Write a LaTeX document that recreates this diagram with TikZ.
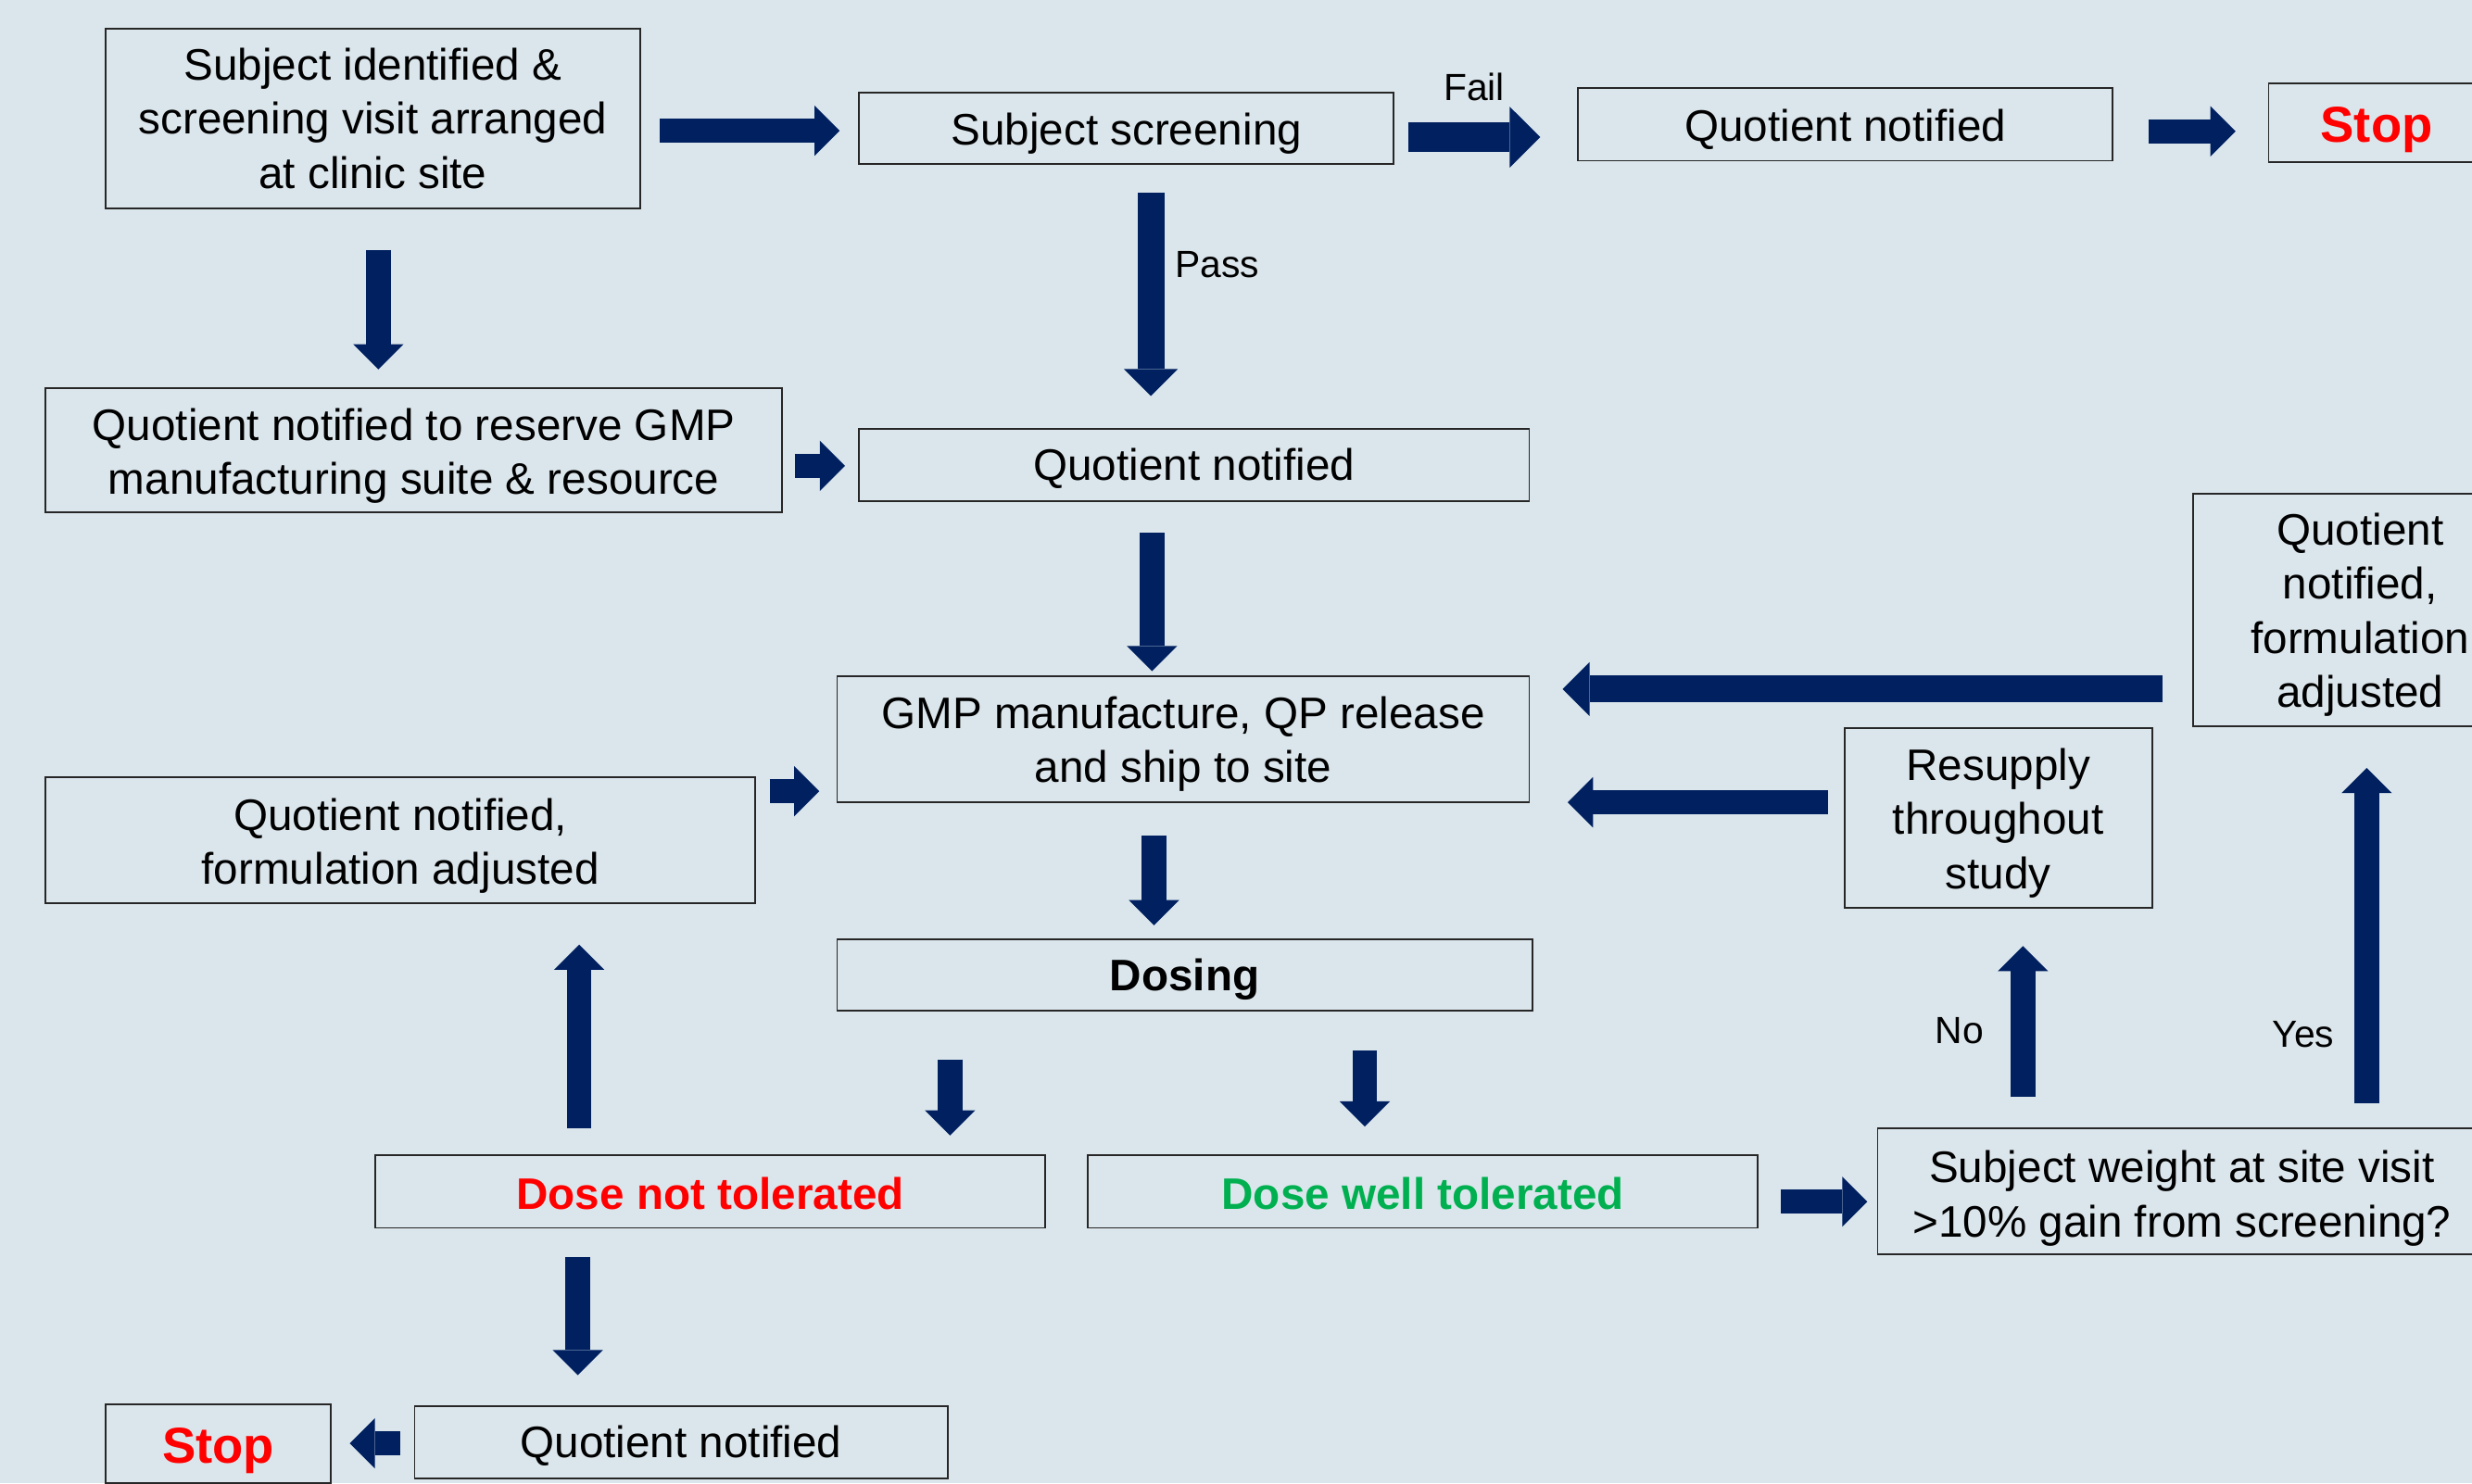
\documentclass[tikz,border=0pt]{standalone}
\usepackage{fontspec}
\setmainfont{Liberation Sans}
\usetikzlibrary{arrows.meta}
\definecolor{bg}{RGB}{219,230,236}
\definecolor{navy}{RGB}{0,32,96}
\definecolor{stopred}{RGB}{255,0,0}
\definecolor{okgreen}{RGB}{0,176,80}
\newcommand\topstrut[1]{\rule{0pt}{#1}}
\begin{document}
\begin{tikzpicture}[x=0.5pt,y=-0.5pt,
  box/.style={draw=black!85, line width=0.55pt, inner sep=0pt, align=center,
    font=\fontsize{14}{17.2}\selectfont},
  sz/.style 2 args={minimum width=#1*0.5pt, minimum height=#2*0.5pt},
  dn/.style={execute at begin node={\rule{0pt}{#1}}},
  barrow/.style={draw=navy, line width=7.75pt,
    -{Triangle[length=8pt,width=16pt,line width=0pt]}},
  midarrow/.style={draw=navy, line width=8.5pt,
    -{Triangle[length=8.5pt,width=17pt,line width=0pt]}},
  bigarrow/.style={draw=navy, line width=9.5pt,
    -{Triangle[length=9.7pt,width=19.3pt,line width=0pt]}},
  lbl/.style={inner sep=0pt, font=\fontsize{12}{14}\selectfont},
  stoptxt/.style={font=\fontsize{16}{19}\selectfont\bfseries, text=stopred},
  boldtxt/.style={font=\fontsize{14}{17}\selectfont\bfseries}
]
\useasboundingbox (0,0) rectangle (1568,941);
\fill[bg] (0,0) rectangle (1568,941);

% boxes
\node[box, sz={339}{114}] (n1) at (236.5,75) {Subject identified \&\\screening visit arranged\\at clinic site};
\node[box, sz={339}{45}, dn=13.3pt] (n2) at (714.5,81.5) {Subject screening};
\node[box, sz={339}{46}, dn=13.3pt] (n3) at (1170.5,79) {Quotient notified};
\node[box, sz={137}{50}, stoptxt, dn=15.8pt] (n4) at (1507.5,78) {Stop};
\node[box, sz={467}{79}] (n5) at (262.5,285.5) {\topstrut{13.8pt}Quotient notified to reserve GMP\\manufacturing suite \& resource};
\node[box, sz={425}{46}, dn=12.6pt] (n6) at (757.5,295) {Quotient notified};
\node[box, sz={439}{80}] (n7) at (750.5,469) {\topstrut{13.3pt}GMP manufacture, QP release\\and ship to site};
\node[box, sz={450}{80}] (n8) at (254,533) {\topstrut{13.8pt}Quotient notified,\\formulation adjusted};
\node[box, sz={212}{148}] (n9) at (1497,387) {\topstrut{13.1pt}Quotient\\notified,\\formulation\\adjusted};
\node[box, sz={195}{114}] (n10) at (1267.5,519) {\topstrut{13.3pt}Resupply\\throughout\\study};
\node[box, sz={441}{45}, boldtxt, dn=13.2pt] (n11) at (751.5,618.5) {Dosing};
\node[box, sz={425}{46}, boldtxt, text=stopred, dn=11.5pt] (n12) at (450.5,756) {Dose not tolerated};
\node[box, sz={425}{46}, boldtxt, text=okgreen, dn=11.5pt] (n13) at (902.5,756) {Dose well tolerated};
\node[box, sz={386}{80}] (n14) at (1384,756) {\topstrut{14.3pt}Subject weight at site visit\\>10\% gain from screening?};
\node[box, sz={338}{46}, dn=12.6pt] (n15) at (432,915) {Quotient notified};
\node[box, sz={143}{50}, stoptxt, dn=15.3pt] (n16) at (138.5,916) {Stop};

% labels
\node[lbl] (lfail) at (935,55) {Fail};
\node[lbl] (lpass) at (772,168) {Pass};
\node[lbl] (lno) at (1243,654) {No};
\node[lbl] (lyes) at (1461,656) {Yes};

% arrow end points
\coordinate (a1s) at (418.6,83);   \coordinate (a1e) at (532.6,83);
\coordinate (a2s) at (240,158.6);  \coordinate (a2e) at (240,234.4);
\coordinate (a3s) at (504,295.5);  \coordinate (a3e) at (536,295.5);
\coordinate (a4s) at (893.3,87);   \coordinate (a4e) at (977,87);
\coordinate (a5s) at (1362.7,83.3);\coordinate (a5e) at (1418,83.3);
\coordinate (a6s) at (730,122);    \coordinate (a6e) at (730,251.2);
\coordinate (a7s) at (730.7,338.2);\coordinate (a7e) at (730.7,425.8);
\coordinate (a8s) at (488.2,502);  \coordinate (a8e) at (519.7,502);
\coordinate (a9s) at (1371.8,437.2);\coordinate (a9e) at (991.2,437.2);
\coordinate (a10s) at (1159.3,509);\coordinate (a10e) at (994.4,509);
\coordinate (a11s) at (732,530.3); \coordinate (a11e) at (732,587);
\coordinate (a12s) at (602.6,672.1);\coordinate (a12e) at (602.6,720.4);
\coordinate (a13s) at (865.7,666.4);\coordinate (a13e) at (865.7,714.7);
\coordinate (a14s) at (1129.3,762.4);\coordinate (a14e) at (1184.5,762.4);
\coordinate (a15s) at (1283.2,696); \coordinate (a15e) at (1283.2,600.2);
\coordinate (a16s) at (1501.2,699.7);\coordinate (a16e) at (1501.2,487.2);
\coordinate (a17s) at (367.4,715.8);\coordinate (a17e) at (367.4,599.3);
\coordinate (a18s) at (366.5,797.4);\coordinate (a18e) at (366.5,872.5);
\coordinate (a19s) at (253.6,915.7);\coordinate (a19e) at (221.8,915.7);

% arrows
\draw[barrow] (a1s) -- (a1e);
\draw[barrow] (a2s) -- (a2e);
\draw[barrow] (a3s) -- (a3e);
\draw[bigarrow] (a4s) -- (a4e);
\draw[barrow] (a5s) -- (a5e);
\draw[midarrow] (a6s) -- (a6e);
\draw[barrow] (a7s) -- (a7e);
\draw[barrow] (a8s) -- (a8e);
\draw[midarrow] (a9s) -- (a9e);
\draw[barrow] (a10s) -- (a10e);
\draw[barrow] (a11s) -- (a11e);
\draw[barrow] (a12s) -- (a12e);
\draw[barrow] (a13s) -- (a13e);
\draw[barrow] (a14s) -- (a14e);
\draw[barrow] (a15s) -- (a15e);
\draw[barrow] (a16s) -- (a16e);
\draw[barrow] (a17s) -- (a17e);
\draw[barrow] (a18s) -- (a18e);
\draw[barrow] (a19s) -- (a19e);
\end{tikzpicture}
\end{document}
